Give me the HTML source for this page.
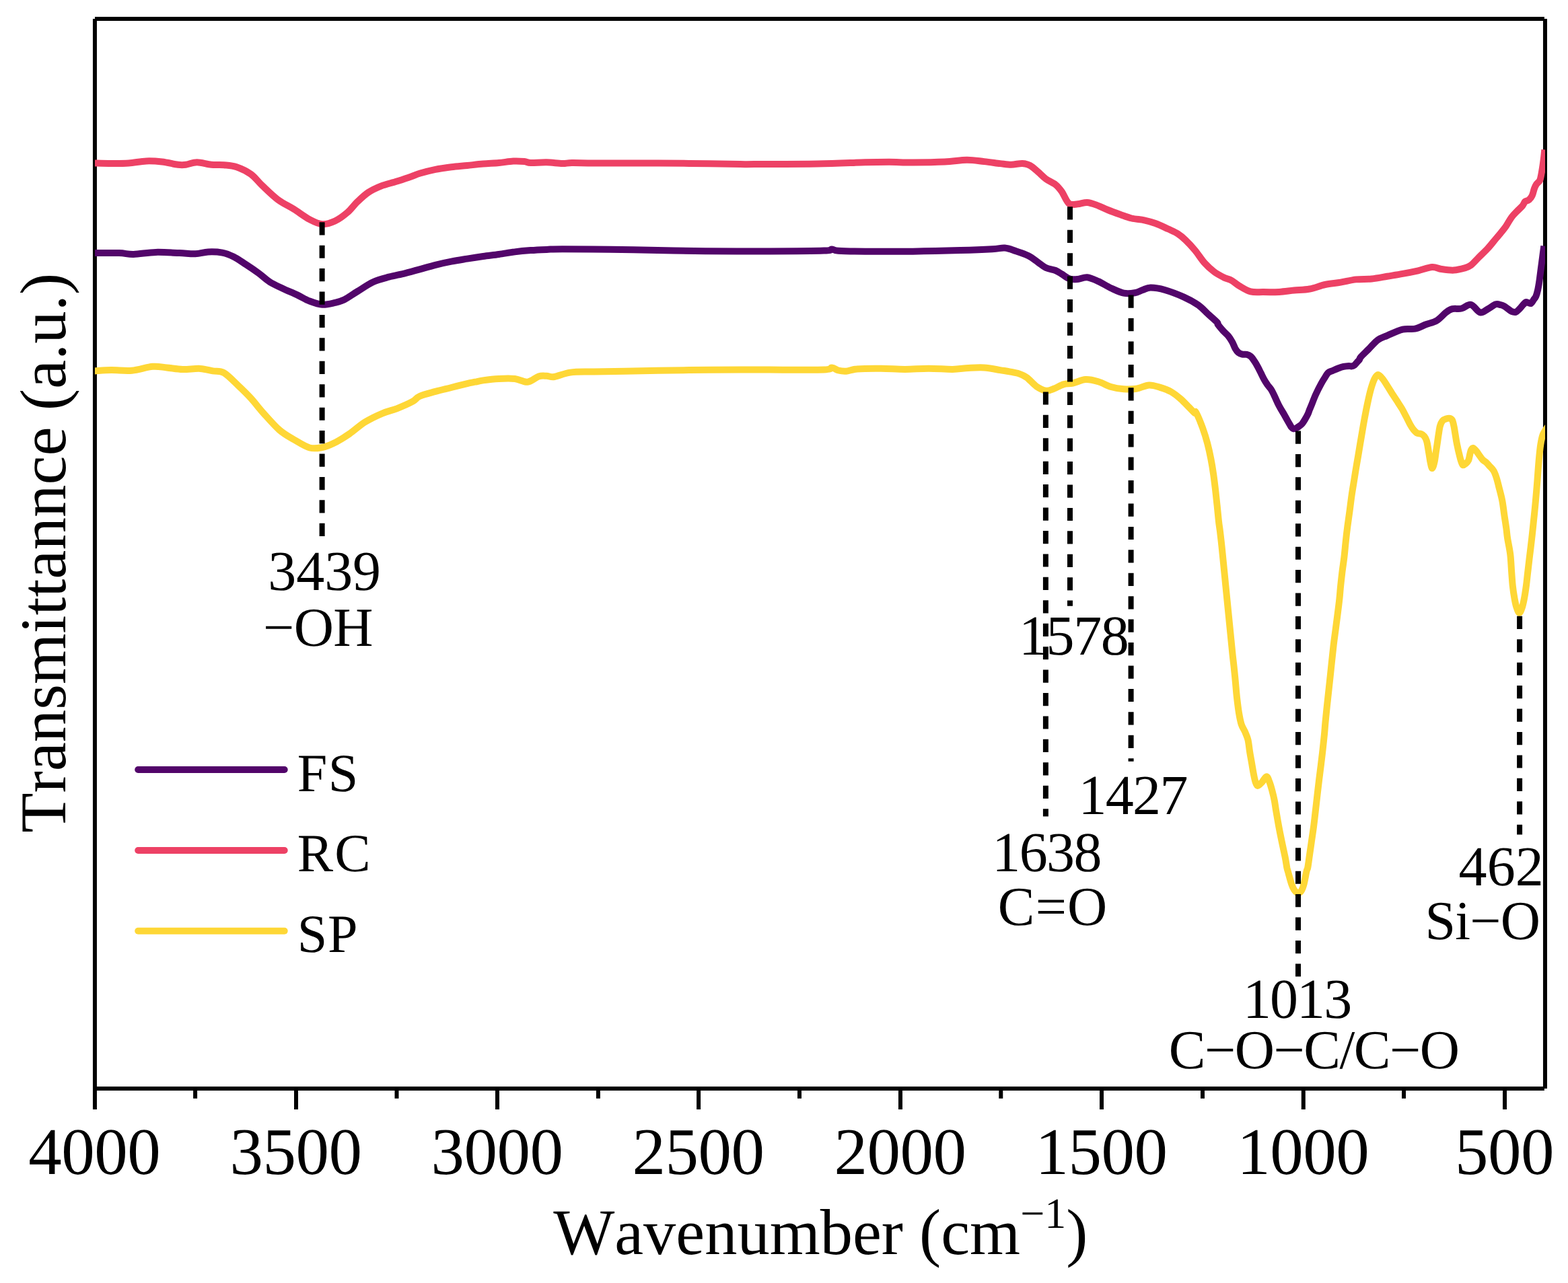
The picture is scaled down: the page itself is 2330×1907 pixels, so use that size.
<!DOCTYPE html>
<html lang="en"><head><meta charset="utf-8">
<style>
html,body{margin:0;padding:0;background:#fff;}
body{width:2330px;height:1907px;overflow:hidden;}
svg{display:block;}
text{font-family:"Liberation Serif","Times New Roman",Times,serif;fill:#000;white-space:pre;font-kerning:none;text-rendering:geometricPrecision;}
.tk{font-size:99px;text-anchor:middle;letter-spacing:-0.5px;}
.an{font-size:82px;}
.nu{font-size:84px;}
.lg{font-size:80px;}
.ax{font-size:96.5px;}
.ay{font-size:97px;}
.sp{font-size:64px;}
.cv{fill:none;stroke-width:10;stroke-linejoin:round;stroke-linecap:butt;}
.ds{stroke:#000;stroke-width:8;stroke-dasharray:19.2 15.23;fill:none;}
.fr{stroke:#000;stroke-width:6;fill:none;}
</style></head><body>
<svg width="2330" height="1907" viewBox="0 0 2330 1907">
<defs><clipPath id="plot"><rect x="140.9" y="28.1" width="2155.0" height="1590.0"/></clipPath></defs>
<rect width="2330" height="1907" fill="#fff"/>
<g class="fr">
<path d="M140.95,28.05V1648.90M140.95,28.05H2294.90M2295.95,28.05V1617.90M140.95,1618.00H2294.90M440.00,1618.00V1648.90M739.00,1618.00V1648.90M1038.10,1618.00V1648.90M1338.00,1618.00V1648.90M1637.00,1618.00V1648.90M1936.80,1618.00V1648.90M2236.00,1618.00V1648.90M290.10,1618.00V1632.70M589.50,1618.00V1632.70M888.90,1618.00V1632.70M1188.00,1618.00V1632.70M1487.30,1618.00V1632.70M1787.00,1618.00V1632.70M2086.00,1618.00V1632.70"/>
</g>
<g class="cv" clip-path="url(#plot)">
<path stroke="#FED736" d="M140.4,551.4C144.6,551.2 156.1,550.1 165.4,550.0C174.7,549.9 185.8,551.6 196.0,550.7C206.2,549.8 218.0,545.5 226.7,544.8C235.3,544.1 240.5,545.7 247.9,546.4C255.3,547.1 263.1,548.8 271.4,549.0C279.6,549.2 289.9,547.5 297.4,547.9C304.9,548.3 310.3,550.3 316.2,551.4C322.1,552.5 326.4,550.6 332.7,554.2C339.0,557.8 347.3,566.8 354.0,573.1C360.7,579.4 366.5,585.0 372.8,591.9C379.1,598.8 384.6,606.4 391.7,614.3C398.8,622.2 407.7,632.6 415.2,639.1C422.7,645.6 429.0,648.8 436.5,653.2C444.0,657.6 452.9,663.5 460.0,665.5C467.1,667.5 473.0,666.1 478.9,665.0C484.8,663.9 488.7,662.4 495.4,659.1C502.1,655.8 511.1,650.3 519.0,645.0C526.9,639.7 534.2,632.4 542.5,627.3C550.8,622.2 560.6,617.6 568.5,614.3C576.4,611.0 582.2,610.2 589.7,607.3C597.2,604.4 607.6,599.8 613.3,596.7C618.9,593.7 618.0,591.5 623.6,589.0C629.2,586.5 639.2,584.1 647.1,581.9C655.0,579.7 662.8,578.0 670.7,576.0C678.6,574.0 688.4,571.5 694.3,570.1C700.2,568.7 702.2,568.5 706.1,567.7C710.0,566.9 712.0,566.2 717.9,565.4C723.8,564.6 733.5,563.4 741.4,563.0C749.2,562.6 757.9,562.2 765.0,563.0C772.1,563.8 778.0,568.3 783.9,567.7C789.8,567.1 795.7,561.0 800.4,559.5C805.1,558.0 808.3,558.7 812.2,558.8C816.1,558.9 818.1,560.9 824.0,560.0C829.9,559.1 837.7,554.9 847.5,553.6C857.3,552.3 865.2,552.8 882.9,552.4C900.6,552.0 930.0,551.7 953.6,551.3C977.2,550.9 999.9,550.4 1024.3,550.1C1048.7,549.8 1080.0,549.7 1100.0,549.6C1120.0,549.5 1123.6,549.6 1144.3,549.6C1165.0,549.6 1209.1,549.9 1224.4,549.4C1239.7,548.9 1232.7,546.3 1236.2,546.5C1239.8,546.7 1242.2,549.6 1245.7,550.5C1249.2,551.4 1252.7,552.1 1257.4,551.7C1262.1,551.4 1265.2,549.1 1273.9,548.4C1282.6,547.7 1297.5,547.6 1309.3,547.7C1321.1,547.8 1332.9,548.9 1344.7,548.9C1356.5,548.9 1368.2,547.7 1380.0,547.7C1391.8,547.7 1405.6,549.0 1415.4,548.9C1425.2,548.8 1431.2,547.4 1439.0,547.0C1446.8,546.6 1454.7,546.0 1462.5,546.5C1470.3,547.0 1479.8,549.1 1486.1,550.1C1492.3,551.1 1495.3,551.4 1500.0,552.3C1504.7,553.2 1509.8,553.9 1514.1,555.4C1518.4,556.9 1521.6,558.1 1525.9,561.3C1530.2,564.4 1535.4,571.1 1540.1,574.3C1544.8,577.5 1549.9,580.0 1554.2,580.6C1558.5,581.2 1561.7,579.3 1566.0,577.8C1570.3,576.3 1575.5,572.8 1580.2,571.4C1584.9,570.0 1588.8,570.7 1594.3,569.5C1599.8,568.3 1606.9,564.5 1613.2,564.1C1619.5,563.7 1625.7,565.4 1632.0,567.2C1638.3,569.0 1644.6,573.1 1650.9,575.0C1657.2,576.9 1663.4,577.8 1669.7,578.3C1676.0,578.8 1682.3,578.8 1688.6,577.8C1694.9,576.8 1701.6,572.7 1707.5,572.4C1713.4,572.1 1718.5,574.2 1724.0,575.9C1729.5,577.6 1735.4,579.6 1740.5,582.5C1745.6,585.4 1750.3,589.4 1754.6,593.1C1758.9,596.8 1762.9,601.4 1766.4,604.9C1769.9,608.4 1774.0,612.9 1775.8,614.3C1777.6,615.6 1775.4,609.4 1777.3,613.0C1779.2,616.6 1784.3,628.4 1787.1,636.1C1789.9,643.8 1792.2,651.4 1794.2,659.1C1796.2,666.8 1797.9,674.5 1799.4,682.2C1800.9,689.9 1802.1,697.5 1803.2,705.2C1804.3,712.9 1805.2,720.5 1806.1,728.2C1807.0,735.9 1807.8,743.6 1808.6,751.3C1809.4,759.0 1810.2,767.8 1810.9,774.3C1811.6,780.8 1812.2,783.5 1813.0,790.0C1813.8,796.5 1814.8,805.3 1815.6,813.0C1816.4,820.7 1817.1,828.4 1817.9,836.1C1818.7,843.8 1819.4,851.4 1820.2,859.1C1821.0,866.8 1821.7,874.5 1822.5,882.2C1823.3,889.9 1824.0,897.5 1824.8,905.2C1825.6,912.9 1826.3,920.5 1827.1,928.2C1827.9,935.9 1828.6,943.6 1829.4,951.3C1830.2,959.0 1831.0,967.8 1831.7,974.3C1832.4,980.8 1832.8,983.5 1833.5,990.0C1834.2,996.5 1835.1,1005.3 1835.8,1013.0C1836.5,1020.7 1837.1,1028.4 1837.9,1036.1C1838.8,1043.8 1839.8,1052.4 1840.9,1059.1C1842.0,1065.8 1843.1,1071.6 1844.6,1076.4C1846.1,1081.2 1848.5,1084.1 1850.1,1087.9C1851.7,1091.7 1853.2,1094.6 1854.4,1099.4C1855.6,1104.2 1856.1,1110.9 1857.0,1116.7C1857.9,1122.5 1859.0,1128.2 1860.0,1134.0C1861.0,1139.8 1862.1,1146.6 1863.0,1151.3C1863.9,1156.0 1864.5,1159.2 1865.5,1162.0C1866.5,1164.8 1867.2,1167.9 1868.8,1168.0C1870.4,1168.1 1872.9,1165.1 1875.1,1162.8C1877.3,1160.5 1880.1,1154.2 1882.0,1154.2C1883.9,1154.2 1885.2,1159.5 1886.6,1162.8C1887.9,1166.1 1888.9,1169.8 1890.1,1174.3C1891.3,1178.8 1892.8,1184.8 1893.8,1190.0C1894.8,1195.2 1895.1,1198.8 1896.2,1205.2C1897.3,1211.6 1898.8,1220.5 1900.2,1228.2C1901.6,1235.9 1903.2,1243.6 1904.8,1251.3C1906.4,1259.0 1908.4,1267.8 1909.7,1274.3C1911.0,1280.8 1911.7,1286.3 1912.4,1290.0C1913.2,1293.7 1913.1,1292.5 1914.2,1296.5C1915.3,1300.5 1917.7,1309.7 1919.2,1314.0C1920.7,1318.3 1921.5,1320.3 1923.0,1322.5C1924.5,1324.7 1926.7,1327.0 1928.4,1327.3C1930.2,1327.6 1932.0,1326.7 1933.5,1324.5C1935.0,1322.3 1936.3,1318.8 1937.6,1313.9C1938.9,1309.0 1940.6,1299.0 1941.5,1295.0C1942.4,1291.0 1942.5,1293.5 1943.2,1290.0C1943.9,1286.5 1944.6,1280.8 1945.5,1274.3C1946.4,1267.8 1947.7,1259.0 1948.8,1251.3C1949.9,1243.6 1951.1,1235.9 1952.1,1228.2C1953.1,1220.5 1953.9,1212.9 1954.8,1205.2C1955.7,1197.5 1956.5,1189.9 1957.4,1182.2C1958.3,1174.5 1959.2,1166.8 1960.1,1159.1C1961.0,1151.4 1962.1,1143.8 1963.0,1136.1C1963.9,1128.4 1964.9,1120.7 1965.7,1113.0C1966.5,1105.3 1967.5,1096.5 1968.1,1090.0C1968.7,1083.5 1968.8,1080.8 1969.4,1074.3C1970.0,1067.8 1970.9,1059.0 1971.7,1051.3C1972.5,1043.6 1973.4,1035.9 1974.2,1028.2C1975.0,1020.5 1975.9,1012.9 1976.7,1005.2C1977.5,997.5 1978.3,989.9 1979.1,982.2C1979.9,974.5 1980.7,966.8 1981.6,959.1C1982.5,951.4 1983.6,943.8 1984.6,936.1C1985.6,928.4 1986.6,920.7 1987.6,913.0C1988.6,905.3 1989.7,896.5 1990.4,890.0C1991.1,883.5 1991.2,880.8 1991.8,874.3C1992.4,867.8 1993.4,859.0 1994.3,851.3C1995.2,843.6 1996.5,835.9 1997.4,828.2C1998.3,820.5 1998.9,812.9 1999.7,805.2C2000.5,797.5 2001.4,789.9 2002.4,782.2C2003.4,774.5 2004.6,766.8 2005.6,759.1C2006.6,751.4 2007.5,743.8 2008.6,736.1C2009.7,728.4 2011.2,719.9 2012.3,713.0C2013.4,706.1 2014.2,700.8 2015.2,695.0C2016.2,689.2 2016.8,685.6 2018.1,678.2C2019.3,670.8 2021.1,659.8 2022.7,650.6C2024.3,641.4 2025.8,632.1 2027.5,622.9C2029.2,613.7 2031.3,603.0 2033.0,595.3C2034.7,587.6 2035.9,582.3 2037.5,576.9C2039.1,571.5 2040.8,566.3 2042.5,563.0C2044.2,559.7 2045.8,557.0 2047.8,557.0C2049.8,557.0 2052.2,560.1 2054.5,563.0C2056.8,565.9 2059.4,570.2 2061.9,574.1C2064.4,578.0 2066.9,582.3 2069.3,586.1C2071.8,589.9 2074.3,593.6 2076.6,597.1C2078.9,600.6 2080.9,603.6 2083.1,607.3C2085.2,611.0 2087.4,615.3 2089.5,619.3C2091.6,623.3 2093.7,627.9 2095.5,631.1C2097.3,634.3 2098.7,636.6 2100.5,638.7C2102.3,640.8 2104.2,642.9 2106.1,643.9C2107.9,644.9 2109.9,644.1 2111.6,644.9C2113.3,645.6 2115.0,646.7 2116.4,648.4C2117.8,650.1 2119.0,652.4 2119.9,655.3C2120.8,658.2 2121.4,662.2 2122.0,665.7C2122.6,669.2 2123.1,672.5 2123.7,676.0C2124.3,679.5 2124.7,683.0 2125.4,686.4C2126.2,689.8 2127.2,696.1 2128.2,696.1C2129.2,696.1 2130.7,690.3 2131.6,686.4C2132.5,682.5 2133.0,677.2 2133.7,672.6C2134.4,668.0 2135.1,663.3 2135.8,658.7C2136.5,654.1 2137.1,649.1 2137.8,644.9C2138.5,640.6 2139.0,636.4 2139.9,633.2C2140.8,630.0 2141.9,627.4 2143.4,625.6C2144.9,623.8 2147.1,623.1 2148.9,622.5C2150.7,621.9 2152.9,621.4 2154.4,621.8C2155.9,622.2 2157.1,622.8 2158.2,624.9C2159.2,627.0 2160.0,631.3 2160.7,634.6C2161.4,637.9 2161.8,641.5 2162.4,644.9C2163.0,648.3 2163.5,651.8 2164.1,655.3C2164.7,658.8 2165.4,662.2 2166.2,665.7C2166.9,669.2 2167.8,672.8 2168.6,676.0C2169.4,679.2 2170.1,682.5 2171.0,685.0C2171.9,687.5 2172.7,690.5 2173.8,691.2C2175.0,691.9 2176.5,690.4 2177.9,689.2C2179.3,688.1 2181.1,686.5 2182.1,684.3C2183.1,682.1 2183.5,678.5 2184.1,676.0C2184.7,673.5 2185.1,670.8 2185.9,669.1C2186.7,667.4 2187.7,665.8 2189.0,666.0C2190.3,666.2 2192.2,668.6 2193.8,670.5C2195.4,672.4 2197.1,675.2 2198.7,677.4C2200.3,679.6 2201.8,681.9 2203.5,683.6C2205.2,685.3 2207.4,686.3 2209.0,687.8C2210.6,689.3 2211.6,690.6 2213.3,692.6C2215.1,694.6 2217.8,696.9 2219.5,699.8C2221.2,702.7 2222.4,706.2 2223.7,710.2C2225.0,714.2 2225.9,718.0 2227.3,723.7C2228.7,729.4 2231.0,737.5 2232.3,744.4C2233.6,751.3 2234.3,758.3 2235.3,765.2C2236.3,772.1 2237.6,780.1 2238.4,785.9C2239.2,791.7 2239.1,793.6 2240.1,800.0C2241.1,806.4 2243.3,816.0 2244.3,824.4C2245.3,832.8 2245.6,843.0 2246.2,850.6C2246.8,858.2 2247.0,863.4 2247.7,870.0C2248.4,876.6 2249.6,884.5 2250.6,890.0C2251.6,895.5 2252.4,899.5 2253.6,903.0C2254.8,906.5 2256.3,910.8 2257.6,911.0C2258.9,911.2 2260.3,907.5 2261.5,904.0C2262.7,900.5 2263.8,895.7 2264.9,890.0C2266.0,884.3 2267.1,876.6 2268.0,870.0C2268.9,863.4 2269.4,857.3 2270.2,850.6C2271.0,843.9 2271.6,838.4 2272.6,830.0C2273.6,821.6 2275.2,809.1 2276.2,800.0C2277.2,790.9 2277.9,784.8 2278.8,775.5C2279.8,766.2 2281.0,754.8 2281.9,744.4C2282.8,734.0 2283.7,723.7 2284.5,713.3C2285.3,702.9 2286.1,690.8 2286.9,682.2C2287.7,673.6 2288.3,667.3 2289.2,661.5C2290.1,655.7 2291.0,651.2 2292.1,647.6C2293.2,644.0 2294.6,642.4 2296.0,640.0C2297.4,637.6 2299.7,634.5 2300.4,633.4"/>
<path stroke="#ED4165" d="M140.4,242.4C144.6,242.5 156.9,242.9 165.4,242.9C173.9,242.9 182.7,243.0 191.3,242.4C199.9,241.8 208.9,239.7 217.2,239.4C225.4,239.1 232.9,239.6 240.8,240.5C248.7,241.4 258.5,244.1 264.4,244.8C270.3,245.5 271.5,245.4 276.2,244.8C280.9,244.2 286.4,241.3 292.7,241.3C299.0,241.3 307.2,244.1 313.9,244.8C320.6,245.5 326.4,244.7 332.7,245.3C339.0,245.9 344.9,246.0 351.6,248.3C358.3,250.6 366.5,254.4 372.8,258.9C379.1,263.4 382.6,269.1 389.3,275.4C396.0,281.7 405.0,290.8 412.9,296.7C420.8,302.6 428.6,305.9 436.5,310.8C444.4,315.7 452.9,322.4 460.0,326.1C467.1,329.8 472.6,332.8 478.9,333.2C485.2,333.6 491.5,331.4 497.8,328.5C504.1,325.6 511.1,320.2 516.6,315.5C522.1,310.8 525.7,305.1 530.8,300.2C535.9,295.3 541.4,289.9 547.3,286.0C553.2,282.1 559.0,279.4 566.1,276.6C573.2,273.9 582.2,271.9 589.7,269.5C597.2,267.1 605.2,264.4 610.9,262.5C616.5,260.6 617.6,259.6 623.6,257.8C629.6,256.0 639.2,253.5 647.1,251.9C655.0,250.3 662.8,249.3 670.7,248.3C678.6,247.3 686.4,246.8 694.3,246.0C702.2,245.2 710.0,244.3 717.9,243.6C725.8,242.9 733.9,242.7 741.4,242.0C748.9,241.3 756.4,239.9 762.7,239.6C769.0,239.3 774.9,239.7 779.2,240.1C783.5,240.5 783.1,241.8 788.6,242.0C794.1,242.2 804.4,241.1 812.2,241.3C820.1,241.5 829.4,243.0 835.7,243.1C842.0,243.2 842.0,242.1 849.9,242.0C857.8,241.9 865.6,242.3 882.9,242.4C900.2,242.5 930.0,242.3 953.6,242.4C977.2,242.5 999.9,242.6 1024.3,242.9C1048.7,243.2 1083.9,243.9 1100.0,244.1C1116.1,244.3 1101.5,244.2 1120.7,244.1C1139.9,244.0 1187.5,244.1 1215.0,243.6C1242.5,243.1 1268.0,241.8 1285.7,241.3C1303.4,240.8 1309.3,240.8 1321.1,240.8C1332.9,240.8 1342.8,241.6 1356.5,241.5C1370.2,241.4 1390.2,241.1 1403.6,240.5C1416.9,239.9 1426.8,237.8 1436.6,237.7C1446.4,237.6 1454.2,239.2 1462.5,240.1C1470.8,241.0 1479.4,242.3 1486.1,243.1C1492.8,243.9 1497.1,244.8 1502.6,244.8C1508.1,244.8 1514.4,242.7 1519.1,242.9C1523.8,243.1 1526.7,243.9 1530.6,246.0C1534.5,248.1 1538.5,252.1 1542.4,255.4C1546.3,258.7 1549.9,262.9 1554.2,266.0C1558.5,269.1 1564.5,271.2 1568.4,274.3C1572.3,277.4 1574.5,280.2 1577.8,284.9C1581.1,289.6 1584.5,299.4 1588.4,302.5C1592.3,305.6 1596.9,303.6 1601.4,303.3C1605.9,303.0 1610.8,300.6 1615.5,300.9C1620.2,301.2 1624.6,303.0 1629.7,304.9C1634.8,306.8 1640.3,309.6 1646.2,312.0C1652.1,314.4 1659.1,316.9 1665.0,319.0C1670.9,321.1 1675.6,323.1 1681.5,324.5C1687.4,325.9 1694.5,326.1 1700.4,327.3C1706.3,328.6 1711.0,329.8 1716.9,332.0C1722.8,334.2 1730.2,337.8 1735.7,340.3C1741.2,342.9 1745.6,344.6 1749.9,347.3C1754.2,350.1 1757.4,352.7 1761.7,356.8C1766.0,360.9 1771.1,366.4 1775.8,372.1C1780.5,377.8 1785.3,385.6 1790.0,390.9C1794.7,396.2 1799.4,400.3 1804.1,403.9C1808.8,407.4 1813.9,410.0 1818.2,412.2C1822.5,414.4 1826.1,414.8 1830.0,416.9C1833.9,419.0 1837.1,422.4 1841.8,425.1C1846.5,427.9 1852.4,431.9 1858.3,433.4C1864.2,434.9 1870.1,434.0 1877.2,434.1C1884.3,434.2 1893.2,434.3 1900.8,433.9C1908.4,433.5 1915.5,432.3 1923.0,431.6C1930.5,430.9 1938.4,430.9 1946.1,429.5C1953.8,428.1 1961.4,424.6 1969.1,423.0C1976.8,421.4 1984.5,420.9 1992.2,419.6C1999.9,418.3 2007.5,416.2 2015.2,415.4C2022.9,414.5 2030.5,415.3 2038.2,414.5C2045.9,413.7 2053.6,412.1 2061.3,410.8C2069.0,409.5 2076.6,408.3 2084.3,406.9C2092.0,405.5 2100.1,403.9 2107.4,402.3C2114.7,400.7 2122.3,397.4 2128.1,397.0C2133.8,396.6 2136.5,399.2 2141.9,400.0C2147.3,400.8 2154.6,401.9 2160.4,401.6C2166.2,401.3 2172.3,399.6 2176.5,398.4C2180.7,397.2 2182.2,396.8 2185.7,394.2C2189.1,391.6 2193.0,386.9 2197.2,382.7C2201.4,378.5 2206.9,373.5 2211.1,368.9C2215.3,364.3 2219.4,358.9 2222.6,355.1C2225.8,351.3 2227.4,349.5 2230.0,346.3C2232.6,343.1 2235.4,339.7 2238.1,335.8C2240.8,331.9 2243.4,326.5 2246.1,322.9C2248.8,319.3 2251.5,316.8 2254.2,314.0C2256.9,311.2 2260.3,308.4 2262.3,306.0C2264.3,303.6 2264.7,301.0 2266.3,299.5C2267.9,298.0 2270.2,298.6 2271.9,297.1C2273.7,295.6 2275.5,293.4 2276.8,290.6C2278.2,287.8 2278.9,283.0 2280.0,280.2C2281.1,277.4 2281.8,275.7 2283.2,273.7C2284.5,271.7 2286.9,270.7 2288.1,268.1C2289.3,265.6 2289.8,262.0 2290.5,258.4C2291.2,254.8 2291.9,250.3 2292.5,246.3C2293.1,242.3 2293.6,238.2 2294.1,234.2C2294.6,230.2 2295.1,224.4 2295.3,222.5"/>
<path stroke="#52056A" d="M140.4,376.1C146.6,376.1 167.4,375.8 177.1,376.1C186.8,376.4 189.3,378.2 198.4,378.0C207.5,377.8 220.0,375.2 231.4,374.9C242.8,374.6 256.9,375.7 266.7,376.1C276.5,376.5 283.2,377.6 290.3,377.3C297.4,377.0 302.5,374.7 309.2,374.4C315.9,374.1 324.1,374.4 330.4,375.6C336.7,376.8 341.0,378.6 346.9,381.5C352.8,384.4 359.4,389.2 365.7,393.3C372.0,397.4 378.7,402.0 384.6,406.3C390.5,410.6 395.2,415.5 401.1,419.2C407.0,422.9 413.3,425.5 420.0,428.7C426.7,431.9 434.5,435.0 441.2,438.1C447.9,441.2 453.7,445.1 460.0,447.5C466.3,449.9 472.6,452.3 478.9,452.7C485.2,453.1 492.3,451.1 497.8,449.9C503.3,448.6 506.4,447.9 511.9,445.2C517.4,442.4 523.7,437.7 530.8,433.4C537.9,429.1 546.4,422.8 554.3,419.2C562.1,415.6 570.0,413.8 577.9,411.7C585.8,409.6 593.9,408.2 601.5,406.3C609.1,404.4 616.0,402.5 623.6,400.4C631.2,398.3 639.2,395.8 647.1,393.8C655.0,391.8 662.8,390.1 670.7,388.6C678.6,387.1 686.4,385.9 694.3,384.6C702.2,383.3 710.0,382.1 717.9,381.0C725.8,379.9 733.5,379.1 741.4,378.0C749.2,376.9 757.1,375.4 765.0,374.4C772.9,373.4 780.7,372.7 788.6,372.1C796.5,371.5 804.4,371.2 812.2,370.9C820.1,370.6 820.0,370.2 835.7,370.2C851.4,370.2 882.9,370.4 906.5,370.7C930.1,371.0 953.6,371.7 977.2,372.1C1000.8,372.5 1027.4,373.1 1047.9,373.3C1068.4,373.5 1083.9,373.5 1100.0,373.5C1116.1,373.5 1123.6,373.6 1144.3,373.5C1165.0,373.4 1209.1,373.1 1224.4,372.6C1239.7,372.1 1232.7,370.4 1236.2,370.4C1239.8,370.4 1237.5,372.2 1245.7,372.8C1254.0,373.4 1267.2,373.6 1285.7,373.7C1304.2,373.8 1332.9,374.0 1356.5,373.7C1380.1,373.4 1407.6,372.7 1427.2,372.1C1446.8,371.5 1463.3,370.8 1474.3,370.2C1485.3,369.6 1487.3,368.1 1493.2,368.6C1499.1,369.1 1503.9,371.4 1509.7,373.3C1515.5,375.2 1522.8,377.6 1528.3,380.3C1533.8,383.1 1538.1,386.9 1542.4,389.8C1546.7,392.8 1549.9,396.0 1554.2,398.0C1558.5,400.0 1564.5,400.4 1568.4,402.0C1572.3,403.6 1574.3,405.3 1577.8,407.4C1581.3,409.5 1585.7,413.2 1589.6,414.5C1593.5,415.8 1597.1,415.4 1601.4,415.0C1605.7,414.6 1610.4,411.7 1615.5,412.2C1620.6,412.7 1626.1,415.4 1632.0,418.1C1637.9,420.8 1644.6,425.3 1650.9,428.2C1657.2,431.1 1663.8,434.5 1669.7,435.7C1675.6,436.9 1681.5,436.1 1686.2,435.3C1690.9,434.5 1694.1,432.3 1698.0,431.0C1701.9,429.7 1704.3,427.5 1709.8,427.5C1715.3,427.5 1722.8,428.6 1731.0,431.0C1739.2,433.4 1751.0,437.9 1759.3,441.6C1767.5,445.3 1774.6,449.3 1780.5,453.4C1786.4,457.5 1790.0,462.1 1794.7,466.4C1799.4,470.7 1806.2,476.6 1808.8,479.3C1811.3,482.0 1808.5,480.6 1810.0,482.7C1811.5,484.8 1815.0,488.9 1817.5,491.7C1820.0,494.4 1822.8,496.4 1825.0,499.2C1827.2,501.9 1829.2,505.1 1831.0,508.2C1832.8,511.3 1834.0,515.3 1835.5,517.9C1837.0,520.5 1838.2,522.4 1840.0,523.9C1841.8,525.4 1843.9,526.1 1846.0,526.6C1848.1,527.1 1850.6,526.4 1852.7,526.9C1854.8,527.4 1856.8,528.3 1858.7,529.9C1860.6,531.5 1862.2,534.1 1863.9,536.7C1865.7,539.3 1867.6,542.7 1869.2,545.7C1870.8,548.7 1872.2,551.6 1873.7,554.6C1875.2,557.6 1876.6,560.7 1878.2,563.6C1879.8,566.5 1881.7,569.4 1883.4,571.9C1885.2,574.4 1887.1,576.1 1888.7,578.6C1890.3,581.1 1891.7,584.1 1893.1,586.9C1894.5,589.7 1895.8,592.9 1896.9,595.4C1898.1,597.9 1898.8,599.7 1900.0,601.9C1901.2,604.1 1902.5,606.5 1903.8,608.8C1905.1,611.1 1906.7,613.4 1908.0,615.7C1909.3,618.0 1910.6,620.4 1911.9,622.7C1913.2,625.0 1914.6,627.6 1915.8,629.6C1917.0,631.6 1918.0,633.7 1919.0,635.0C1920.0,636.3 1920.8,637.0 1922.0,637.2C1923.2,637.5 1924.6,637.1 1926.0,636.5C1927.4,635.9 1929.0,634.6 1930.5,633.5C1932.0,632.4 1933.6,631.4 1935.1,629.6C1936.6,627.8 1938.2,625.0 1939.6,622.7C1941.0,620.4 1942.3,618.0 1943.4,615.7C1944.5,613.4 1945.1,611.1 1946.0,608.8C1946.9,606.5 1947.4,605.6 1948.9,601.9C1950.4,598.2 1952.7,591.8 1955.1,586.5C1957.5,581.2 1961.0,574.3 1963.2,570.3C1965.4,566.3 1966.3,565.0 1968.0,562.3C1969.7,559.6 1971.5,556.1 1973.5,554.2C1975.5,552.3 1977.8,552.1 1980.3,551.0C1982.8,549.9 1985.7,548.5 1988.4,547.5C1991.1,546.5 1993.8,545.5 1996.5,544.9C1999.2,544.3 2002.5,544.0 2004.5,543.9C2006.5,543.8 2007.2,544.6 2008.5,544.4C2009.8,544.2 2011.2,543.7 2012.6,542.7C2013.9,541.7 2015.4,539.6 2016.6,538.3C2017.8,536.9 2019.1,535.9 2020.0,534.6C2020.9,533.3 2019.8,533.2 2022.1,530.6C2024.4,528.0 2029.4,523.3 2033.6,519.1C2037.8,514.9 2042.9,508.7 2047.5,505.3C2052.1,501.9 2055.2,501.4 2061.3,498.8C2067.4,496.2 2077.4,491.3 2084.3,489.6C2091.2,487.9 2097.0,489.9 2102.8,488.7C2108.6,487.5 2113.5,484.3 2118.9,482.3C2124.3,480.3 2130.0,479.5 2135.0,476.5C2140.0,473.5 2145.0,467.2 2148.8,464.3C2152.7,461.4 2154.2,460.2 2158.1,459.2C2161.9,458.2 2167.3,459.6 2171.9,458.5C2176.5,457.4 2181.1,451.8 2185.7,452.8C2190.3,453.8 2195.3,463.2 2199.5,464.3C2203.7,465.4 2207.2,461.2 2211.1,459.2C2214.9,457.2 2219.4,453.3 2222.6,452.3C2225.8,451.3 2228.0,452.8 2230.0,453.2C2232.0,453.6 2233.1,453.9 2234.8,454.8C2236.6,455.8 2238.6,457.5 2240.5,458.9C2242.4,460.2 2244.1,462.1 2246.1,462.9C2248.1,463.7 2250.6,464.4 2252.6,463.7C2254.6,463.0 2256.4,460.6 2258.2,458.9C2259.9,457.1 2261.6,454.8 2263.1,453.2C2264.6,451.6 2265.8,449.7 2267.1,449.2C2268.4,448.7 2269.8,449.7 2271.1,450.0C2272.4,450.3 2273.8,451.6 2275.2,450.8C2276.5,450.0 2278.0,446.9 2279.2,445.2C2280.4,443.4 2281.4,442.7 2282.4,440.3C2283.4,437.9 2284.4,434.2 2285.2,430.6C2286.0,427.0 2286.7,422.5 2287.3,418.5C2287.9,414.5 2288.4,410.5 2288.9,406.5C2289.4,402.5 2290.0,398.4 2290.5,394.4C2291.0,390.4 2291.6,386.3 2292.1,382.3C2292.6,378.3 2293.3,373.0 2293.7,370.2C2294.1,367.4 2294.2,366.3 2294.3,365.5"/>
</g>
<g class="ds">
<line x1="478.6" y1="330.2" x2="478.6" y2="798.2"/>
<line x1="1590.0" y1="307.3" x2="1590.0" y2="900.7"/>
<line x1="1680.6" y1="438.6" x2="1680.6" y2="1131.7"/>
<line x1="1553.9" y1="582.4" x2="1553.9" y2="1213.5"/>
<line x1="1929.0" y1="640.5" x2="1929.0" y2="1451.5"/>
<line x1="2258.1" y1="915.8" x2="2258.1" y2="1240.5"/>
</g>
<g class="tk">
<text x="140.3" y="1745.4">4000</text>
<text x="439.4" y="1745.4">3500</text>
<text x="738.4" y="1745.4">3000</text>
<text x="1037.5" y="1745.4">2500</text>
<text x="1337.4" y="1745.4">2000</text>
<text x="1636.4" y="1745.4">1500</text>
<text x="1936.2" y="1745.4">1000</text>
<text x="2235.4" y="1745.4">500</text>
</g>
<g>
<text class="nu" x="398.3" y="877.2" style="letter-spacing:-0.08px">3439</text>
<text class="an" x="391.1" y="960.2" style="letter-spacing:-0.70px">−OH</text>
<text class="nu" x="1514.0" y="972.5" style="letter-spacing:-1.41px">1578</text>
<text class="nu" x="1602.4" y="1209.9" style="letter-spacing:-1.67px">1427</text>
<text class="nu" x="1474.2" y="1295.3" style="letter-spacing:-1.54px">1638</text>
<text class="an" x="1482.8" y="1375.1" style="letter-spacing:1.19px">C=O</text>
<text class="nu" x="1847.0" y="1512.5" style="letter-spacing:-1.95px">1013</text>
<text class="an" x="1736.7" y="1588.3" style="letter-spacing:-1.46px">C−O−C/C−O</text>
<text class="nu" x="2167.5" y="1316.4" style="letter-spacing:0.14px">462</text>
<text class="an" x="2117.6" y="1396.1" style="letter-spacing:-0.83px">Si−O</text>
</g>
<g stroke-width="10" stroke-linecap="round" fill="none">
<line x1="205.2" y1="1144.0" x2="422.7" y2="1144.0" stroke="#52056A"/>
<line x1="205.2" y1="1264.0" x2="422.7" y2="1264.0" stroke="#ED4165"/>
<line x1="205.2" y1="1383.8" x2="422.7" y2="1383.8" stroke="#FED736"/>
</g>
<g>
<text class="lg" x="441.7" y="1176.0" style="letter-spacing:1.48px">FS</text>
<text class="lg" x="441.7" y="1295.0" style="letter-spacing:2.10px">RC</text>
<text class="lg" x="441.7" y="1415.3" style="letter-spacing:0.87px">SP</text>
</g>
<text class="ax" x="822.2" y="1863.8">Wavenumber (cm<tspan class="sp" dy="-38.8">−1</tspan><tspan dy="38.8">)</tspan></text>
<text class="ay" transform="translate(96.5,1237.8) rotate(-90)" x="0" y="0">Transmittannce (a.u.)</text>
</svg>
</body></html>
